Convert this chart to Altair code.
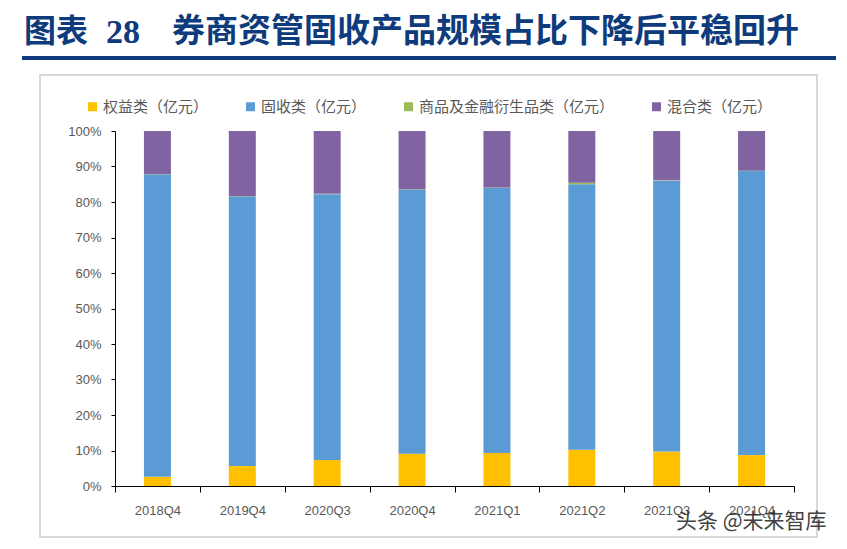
import altair as alt
import pandas as pd

# ---- data (shares in %) ----
quarters = ["2018Q4", "2019Q4", "2020Q3", "2020Q4", "2021Q1", "2021Q2", "2021Q3", "2021Q4"]
series_names = ["权益类（亿元）", "固收类（亿元）", "商品及金融衍生品类（亿元）", "混合类（亿元）"]
equity = [2.6, 5.6, 7.3, 9.1, 9.3, 10.2, 9.7, 8.7]
fixed_income = [85.2, 76.0, 74.9, 74.4, 74.7, 74.8, 76.3, 80.0]
derivatives = [0.1, 0.1, 0.1, 0.1, 0.1, 0.4, 0.1, 0.1]
mixed = [12.1, 18.3, 17.7, 16.4, 15.9, 14.6, 13.9, 11.2]
colors = ["#FFC000", "#5B9BD5", "#9BBB59", "#8064A2"]
y_ticks = [0, 0.1, 0.2, 0.3, 0.4, 0.5, 0.6, 0.7, 0.8, 0.9, 1.0]

title_a = "图表"
title_b = "28"
title_c = "券商资管固收产品规模占比下降后平稳回升"
watermark = "头条 @未来智库"

rows = []
for s_idx, (name, vals) in enumerate(zip(series_names, [equity, fixed_income, derivatives, mixed])):
    for q, v in zip(quarters, vals):
        rows.append({"quarter": q, "series": name, "value": v, "order": s_idx})
df = pd.DataFrame(rows)

W, H = 679, 355
num_font = "Liberation Sans, Arial"
cjk_font = "Noto Sans CJK SC"

bars = alt.Chart(df).mark_bar(size=27).encode(
    x=alt.X("quarter:N", sort=quarters, title=None,
            scale=alt.Scale(paddingInner=0, paddingOuter=0),
            axis=alt.Axis(labelAngle=0, tickBand="extent", tickSize=6, labelPadding=12,
                          domainColor="#000000", tickColor="#000000",
                          labelFont=num_font, labelFontSize=13, labelColor="#595959",
                          grid=False)),
    y=alt.Y("value:Q", stack="normalize", title=None,
            scale=alt.Scale(domain=[0, 1], nice=False),
            axis=alt.Axis(values=y_ticks, format=".0%", tickSize=4, labelPadding=10,
                          domainColor="#000000", tickColor="#000000",
                          labelFont=num_font, labelFontSize=13, labelColor="#595959",
                          grid=False)),
    color=alt.Color("series:N",
                    scale=alt.Scale(domain=series_names, range=colors),
                    legend=alt.Legend(title=None, orient="none", legendX=-30, legendY=-32,
                                      direction="horizontal", columns=4, columnPadding=34,
                                      symbolType="square", symbolSize=81,
                                      symbolStrokeWidth=0, labelOffset=3, labelLimit=0,
                                      labelFont=cjk_font, labelFontSize=15,
                                      labelColor="#595959")),
    order=alt.Order("order:Q", sort="ascending"),
)

one = pd.DataFrame({"k": [0]})

frame = alt.Chart(one).mark_rect(fill=None, stroke="#D9D9D9", strokeWidth=2).encode(
    x=alt.value(-75), x2=alt.value(702), y=alt.value(-56), y2=alt.value(406))

title_line = alt.Chart(one).mark_rule(color="#0E3B7C", strokeWidth=4).encode(
    x=alt.value(-93), x2=alt.value(721), y=alt.value(-73))

t1 = alt.Chart(one).mark_text(text=title_a, font=cjk_font, fontSize=32, fontWeight="bold",
                              color="#0E3B7C", align="left", baseline="alphabetic").encode(
    x=alt.value(-91), y=alt.value(-89))
t2 = alt.Chart(one).mark_text(text=title_b, font="Liberation Serif", fontSize=34, fontWeight="bold",
                              color="#0E3B7C", align="left", baseline="alphabetic").encode(
    x=alt.value(-9), y=alt.value(-88))
t3 = alt.Chart(one).mark_text(text=title_c, font=cjk_font, fontSize=33, fontWeight="bold",
                              color="#0E3B7C", align="left", baseline="alphabetic").encode(
    x=alt.value(57), y=alt.value(-89))

wm = alt.Chart(one).mark_text(text=watermark, font=cjk_font, fontSize=21,
                              color="#222222", opacity=0.85, align="left", baseline="middle").encode(
    x=alt.value(561), y=alt.value(391))

chart = alt.layer(frame, title_line, t1, t2, t3, bars, wm).properties(
    width=W, height=H,
    autosize=alt.AutoSizeParams(type="none"),
    padding={"left": 107, "top": 123, "right": 45, "bottom": 55},
).configure_view(stroke=None)

chart.save("out.html", embed_options={"renderer": "svg", "actions": False})
